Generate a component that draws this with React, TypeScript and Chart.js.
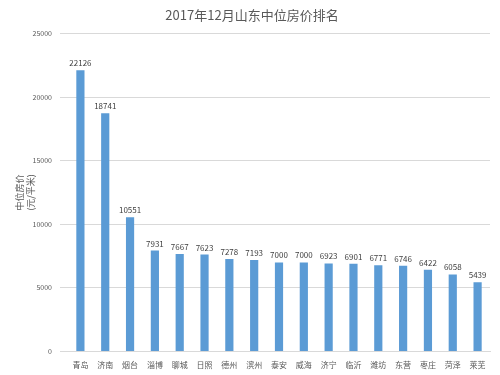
import React, { useEffect, useRef } from "react";
import { Chart, registerables } from "chart.js";

Chart.register(...registerables);

const categories = ["青岛", "济南", "烟台", "淄博", "聊城", "日照", "德州", "滨州", "泰安", "威海", "济宁", "临沂", "潍坊", "东营", "枣庄", "菏泽", "莱芜"];
const values = [22126, 18741, 10551, 7931, 7667, 7623, 7278, 7193, 7000, 7000, 6923, 6901, 6771, 6746, 6422, 6058, 5439];
const yTicks = [0, 5000, 10000, 15000, 20000, 25000];

const FONT = "'Noto Sans CJK SC', 'Noto Sans', sans-serif";

const valueLabels = {
  id: "valueLabels",
  afterDatasetsDraw(chart: any) {
    const ctx = chart.ctx;
    const meta = chart.getDatasetMeta(0);
    ctx.save();
    ctx.font = `8px ${FONT}`;
    ctx.fillStyle = "#404040";
    ctx.textAlign = "center";
    ctx.textBaseline = "bottom";
    meta.data.forEach((bar: any, i: number) => {
      ctx.fillText(String(values[i]), bar.x, bar.y - 3);
    });
    ctx.restore();
  },
};

export default function App() {
  const ref = useRef<HTMLCanvasElement>(null);
  useEffect(() => {
    document.body.style.margin = "0";
    const chart = new Chart(ref.current!, {
      type: "bar",
      data: {
        labels: categories,
        datasets: [
          {
            data: values,
            backgroundColor: "#5B9BD5",
            categoryPercentage: 1,
            barPercentage: 0.33,
          },
        ],
      },
      options: {
        animation: false,
        responsive: false,
        layout: { padding: { left: 14, right: 10, top: 0, bottom: 4 } },
        plugins: {
          legend: { display: false },
          tooltip: { enabled: false },
          title: {
            display: true,
            text: "2017年12月山东中位房价排名",
            color: "#595959",
            font: { family: FONT, size: 13, weight: "normal" },
            padding: { top: 7, bottom: 11 },
          },
        },
        scales: {
          x: {
            grid: { display: false },
            border: { color: "#d9d9d9" },
            ticks: { color: "#595959", font: { family: FONT, size: 8 }, maxRotation: 0, autoSkip: false, padding: 1 },
          },
          y: {
            min: 0,
            max: 25000,
            afterBuildTicks(axis: any) {
              axis.ticks = yTicks.map((v) => ({ value: v }));
            },
            afterFit(axis: any) {
              axis.width = 54;
            },
            grid: { color: "#d9d9d9" },
            border: { display: false },
            ticks: {
              color: "#595959",
              font: { family: FONT, size: 7 },
              padding: 8,
              callback: (v: any) => String(v),
            },
            title: {
              display: true,
              text: ["中位房价", "(元/平米)"],
              color: "#595959",
              font: { family: FONT, size: 9 },
              padding: { top: 0, bottom: 6 },
            },
          },
        },
      },
      plugins: [valueLabels],
    });
    return () => chart.destroy();
  }, []);
  return (
    <div style={{ width: 500, height: 375, background: "#fff" }}>
      <canvas ref={ref} width={500} height={375} />
    </div>
  );
}
